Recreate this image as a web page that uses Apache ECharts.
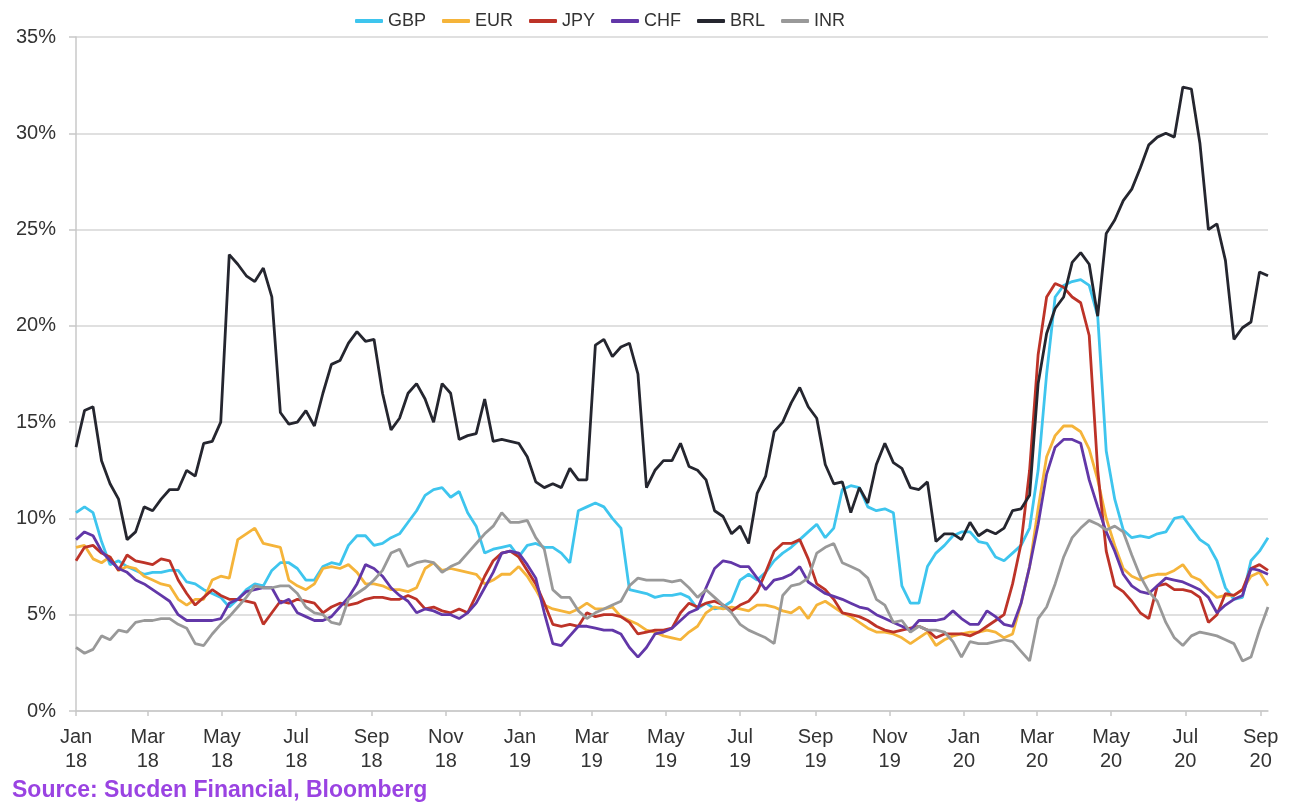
<!DOCTYPE html>
<html>
<head>
<meta charset="utf-8">
<title>FX volatility</title>
<script src="https://cdn.jsdelivr.net/npm/echarts@6/dist/echarts.min.js"></script>
<style>
    html, body { margin: 0; padding: 0; background: #fff; }
    #chart { width: 1298px; height: 805px; }
</style>
</head>
<body>
<div id="chart"></div>
<script>
// weekly observations, first one on 1 Jan 2018
const startDate = '2018-01-01';
const pointCount = 141;

// x-axis tick labels (every second month)
const tickDates = ['2018-01-01', '2018-03-01', '2018-05-01', '2018-07-01', '2018-09-01', '2018-11-01',
    '2019-01-01', '2019-03-01', '2019-05-01', '2019-07-01', '2019-09-01', '2019-11-01',
    '2020-01-01', '2020-03-01', '2020-05-01', '2020-07-01', '2020-09-01'];
const tickLabels = ['Jan\n18', 'Mar\n18', 'May\n18', 'Jul\n18', 'Sep\n18', 'Nov\n18',
    'Jan\n19', 'Mar\n19', 'May\n19', 'Jul\n19', 'Sep\n19', 'Nov\n19',
    'Jan\n20', 'Mar\n20', 'May\n20', 'Jul\n20', 'Sep\n20'];

const seriesNames = ['GBP', 'EUR', 'JPY', 'CHF', 'BRL', 'INR'];
const seriesColors = ['#3ec5ee', '#f5b43a', '#bd3328', '#6237a8', '#25262f', '#999999'];

const gbp = [
    10.3, 10.6, 10.3, 8.8, 7.6, 7.8, 7.5, 7.3, 7.1, 7.2,
    7.2, 7.3, 7.3, 6.7, 6.6, 6.3, 6.1, 5.9, 5.4, 5.8,
    6.3, 6.6, 6.5, 7.3, 7.7, 7.7, 7.4, 6.8, 6.8, 7.5,
    7.7, 7.6, 8.6, 9.1, 9.1, 8.6, 8.7, 9.0, 9.2, 9.8,
    10.4, 11.2, 11.5, 11.6, 11.1, 11.4, 10.3, 9.6, 8.2, 8.4,
    8.5, 8.6, 8.0, 8.6, 8.7, 8.5, 8.5, 8.2, 7.7, 10.4,
    10.6, 10.8, 10.6, 10.0, 9.5, 6.3, 6.2, 6.1, 5.9, 6.0,
    6.0, 6.1, 5.9, 5.3, 5.6, 5.3, 5.4, 5.7, 6.8, 7.1,
    6.8, 7.2, 7.8, 8.2, 8.5, 8.9, 9.3, 9.7, 9.0, 9.5,
    11.5, 11.7, 11.6, 10.6, 10.4, 10.5, 10.3, 6.5, 5.6, 5.6,
    7.5, 8.2, 8.6, 9.1, 9.3, 9.3, 8.8, 8.7, 8.0, 7.8,
    8.2, 8.6, 9.5, 12.5, 17.5, 21.5, 22.1, 22.3, 22.4, 22.1,
    20.5, 13.5, 11.0, 9.4, 9.0, 9.1, 9.0, 9.2, 9.3, 10.0,
    10.1, 9.5, 8.9, 8.6, 7.8, 6.4, 5.8, 5.9, 7.8, 8.3,
    9.0
];

const eur = [
    8.5, 8.6, 7.9, 7.7, 8.0, 7.3, 7.5, 7.4, 7.0, 6.8,
    6.6, 6.5, 5.8, 5.5, 5.8, 5.8, 6.8, 7.0, 6.9, 8.9,
    9.2, 9.5, 8.7, 8.6, 8.5, 6.8, 6.5, 6.3, 6.6, 7.4,
    7.5, 7.4, 7.6, 7.2, 6.6, 6.6, 6.5, 6.3, 6.3, 6.2,
    6.4, 7.4, 7.7, 7.3, 7.4, 7.3, 7.2, 7.1, 6.6, 6.8,
    7.1, 7.1, 7.5, 7.0, 6.3, 5.5, 5.3, 5.2, 5.1, 5.3,
    5.6, 5.3, 5.3, 5.4, 4.9, 4.7, 4.5, 4.2, 4.1, 3.9,
    3.8, 3.7, 4.1, 4.4, 5.1, 5.4, 5.3, 5.4, 5.3, 5.2,
    5.5, 5.5, 5.4, 5.2, 5.1, 5.4, 4.8, 5.5, 5.7, 5.4,
    5.1, 4.9, 4.6, 4.3, 4.1, 4.1, 4.0, 3.8, 3.5, 3.8,
    4.1, 3.4, 3.7, 3.9, 4.0, 4.1, 4.1, 4.2, 4.1, 3.8,
    4.0, 5.6, 7.5, 10.5, 13.2, 14.3, 14.8, 14.8, 14.5, 13.6,
    12.0, 10.0, 8.6, 7.4, 7.0, 6.8, 7.0, 7.1, 7.1, 7.3,
    7.6, 7.0, 6.8, 6.3, 5.9, 6.0, 6.0, 6.3, 7.0, 7.2,
    6.5
];

const jpy = [
    7.8, 8.5, 8.6, 8.2, 8.0, 7.3, 8.1, 7.8, 7.7, 7.6,
    7.9, 7.8, 6.8, 6.1, 5.5, 5.9, 6.3, 6.0, 5.8, 5.8,
    5.7, 5.6, 4.5, 5.1, 5.7, 5.6, 5.8, 5.7, 5.6, 5.1,
    5.4, 5.6, 5.5, 5.6, 5.8, 5.9, 5.9, 5.8, 5.8, 6.0,
    5.8, 5.3, 5.4, 5.2, 5.1, 5.3, 5.1, 6.0, 7.0, 7.8,
    8.2, 8.3, 8.0, 7.3, 6.6, 5.6, 4.5, 4.4, 4.5, 4.4,
    5.1, 4.9, 5.0, 5.0, 4.9, 4.6, 4.0, 4.1, 4.2, 4.2,
    4.3, 5.1, 5.6, 5.4, 5.6, 5.7, 5.5, 5.2, 5.5, 5.7,
    6.2, 7.2, 8.3, 8.7, 8.7, 8.9, 7.9, 6.6, 6.3, 5.8,
    5.1, 5.0, 4.9, 4.7, 4.4, 4.2, 4.1, 4.2, 4.3, 4.4,
    4.2, 3.8, 4.0, 4.0, 4.0, 3.9, 4.1, 4.4, 4.7, 5.0,
    6.6, 8.7, 12.5, 18.5, 21.5, 22.2, 22.0, 21.5, 21.2, 19.5,
    12.5, 8.3, 6.5, 6.2, 5.7, 5.1, 4.8, 6.5, 6.6, 6.3,
    6.3, 6.2, 5.9, 4.6, 5.0, 6.1, 6.0, 6.3, 7.4, 7.6,
    7.3
];

const chf = [
    8.9, 9.3, 9.1, 8.3, 7.8, 7.4, 7.2, 6.8, 6.6, 6.3,
    6.0, 5.7, 5.0, 4.7, 4.7, 4.7, 4.7, 4.8, 5.6, 5.8,
    6.2, 6.3, 6.4, 6.4, 5.6, 5.8, 5.1, 4.9, 4.7, 4.7,
    4.9, 5.4, 5.9, 6.6, 7.6, 7.4, 7.0, 6.4, 6.0, 5.7,
    5.1, 5.3, 5.2, 5.0, 5.0, 4.8, 5.1, 5.6, 6.4, 7.2,
    8.2, 8.3, 8.2, 7.6, 6.9, 5.1, 3.5, 3.4, 3.9, 4.4,
    4.4, 4.3, 4.2, 4.2, 4.0, 3.3, 2.8, 3.3, 4.0, 4.1,
    4.3, 4.7, 5.1, 5.3, 6.4, 7.4, 7.8, 7.7, 7.5, 7.5,
    6.9, 6.3, 6.8, 6.9, 7.1, 7.5, 6.7, 6.4, 6.1, 5.95,
    5.8, 5.6, 5.4, 5.3, 5.0, 4.8, 4.6, 4.4, 4.2, 4.7,
    4.7, 4.7, 4.8, 5.2, 4.8, 4.5, 4.5, 5.2, 4.9, 4.5,
    4.4, 5.6, 7.5, 9.7, 12.3, 13.7, 14.1, 14.1, 13.9, 12.0,
    10.6, 9.3, 8.3, 7.1, 6.5, 6.2, 6.1, 6.5, 6.9, 6.8,
    6.7, 6.5, 6.3, 5.9, 5.1, 5.5, 5.8, 6.0, 7.4, 7.3,
    7.1
];

const brl = [
    13.7, 15.6, 15.8, 13.0, 11.8, 11.0, 8.9, 9.3, 10.6, 10.4,
    11.0, 11.5, 11.5, 12.5, 12.2, 13.9, 14.0, 15.0, 23.7, 23.2,
    22.6, 22.3, 23.0, 21.5, 15.5, 14.9, 15.0, 15.6, 14.8, 16.5,
    18.0, 18.2, 19.1, 19.7, 19.2, 19.3, 16.5, 14.6, 15.2, 16.5,
    17.0, 16.2, 15.0, 17.0, 16.5, 14.1, 14.3, 14.4, 16.2, 14.0,
    14.1, 14.0, 13.9, 13.2, 11.9, 11.6, 11.8, 11.6, 12.6, 12.0,
    12.0, 19.0, 19.3, 18.4, 18.9, 19.1, 17.5, 11.6, 12.5, 13.0,
    13.0, 13.9, 12.7, 12.5, 12.0, 10.4, 10.1, 9.2, 9.6, 8.7,
    11.3, 12.2, 14.5, 15.0, 16.0, 16.8, 15.8, 15.2, 12.8, 11.8,
    11.9, 10.3, 11.6, 10.8, 12.8, 13.9, 12.9, 12.6, 11.6, 11.5,
    11.9, 8.8, 9.2, 9.2, 8.9, 9.8, 9.1, 9.4, 9.2, 9.5,
    10.4, 10.5, 11.2, 17.0, 19.6, 20.9, 21.5, 23.3, 23.8, 23.2,
    20.5, 24.8, 25.5, 26.5, 27.1, 28.2, 29.4, 29.8, 30.0, 29.8,
    32.4, 32.3, 29.5, 25.0, 25.3, 23.4, 19.3, 19.9, 20.2, 22.8,
    22.6
];

const inr = [
    3.3, 3.0, 3.2, 3.9, 3.7, 4.2, 4.1, 4.6, 4.7, 4.7,
    4.8, 4.8, 4.5, 4.3, 3.5, 3.4, 4.0, 4.5, 4.9, 5.4,
    5.9, 6.5, 6.4, 6.4, 6.5, 6.5, 6.1, 5.4, 5.1, 5.0,
    4.6, 4.5, 5.8, 6.1, 6.4, 6.8, 7.3, 8.2, 8.4, 7.5,
    7.7, 7.8, 7.7, 7.2, 7.5, 7.7, 8.2, 8.7, 9.2, 9.6,
    10.3, 9.8, 9.8, 9.9, 9.0, 8.4, 6.3, 5.9, 5.9, 5.2,
    4.8, 5.1, 5.3, 5.5, 5.7, 6.5, 6.9, 6.8, 6.8, 6.8,
    6.7, 6.8, 6.4, 5.9, 6.3, 5.9, 5.5, 5.1, 4.5, 4.2,
    4.0, 3.8, 3.5, 6.0, 6.5, 6.6, 6.9, 8.2, 8.5, 8.7,
    7.7, 7.5, 7.3, 6.9, 5.8, 5.5, 4.6, 4.7, 4.1, 4.4,
    4.2, 4.2, 4.1, 3.6, 2.8, 3.6, 3.5, 3.5, 3.6, 3.7,
    3.6, 3.1, 2.6, 4.8, 5.4, 6.6, 8.0, 9.0, 9.5, 9.9,
    9.7, 9.4, 9.6, 9.3, 8.1, 7.0, 6.2, 5.7, 4.6, 3.8,
    3.4, 3.9, 4.1, 4.0, 3.9, 3.7, 3.5, 2.6, 2.8, 4.2,
    5.4
];

const seriesValues = [gbp, eur, jpy, chf, brl, inr];

// x 轴用"距起始日的天数"表示，刻度放在每两个月的月初
const DAY = 24 * 3600 * 1000;
const toDay = (s) => {
    const [y, m, d] = s.split('-').map(Number);
    const [y0, m0, d0] = startDate.split('-').map(Number);
    return Math.round((Date.UTC(y, m - 1, d) - Date.UTC(y0, m0 - 1, d0)) / DAY);
};

const weekDays = [];
for (let i = 0; i < pointCount; i++) {
    weekDays.push(i * 7);
}
const tickValues = tickDates.map(toDay);

const font = '"Liberation Sans", Arial, sans-serif';

const chart = echarts.init(document.getElementById('chart'));

chart.setOption({
    animation: false,
    backgroundColor: '#fff',
    textStyle: { fontFamily: font },
    legend: {
        left: 350,
        top: 7,
        itemWidth: 28,
        itemHeight: 4,
        itemGap: 16,
        icon: 'roundRect',
        textStyle: { fontSize: 18, color: '#333', fontFamily: font },
        data: seriesNames
    },
    grid: {
        left: 76,
        right: 30,
        top: 37,
        bottom: 94
    },
    xAxis: {
        type: 'value',
        min: 0,
        max: weekDays[weekDays.length - 1],
        axisLine: { lineStyle: { color: '#c8c8c8', width: 1.5 } },
        axisTick: {
            show: true,
            customValues: tickValues,
            length: 5,
            lineStyle: { color: '#c8c8c8', width: 1.5 }
        },
        axisLabel: {
            customValues: tickValues,
            color: '#333',
            fontSize: 20,
            lineHeight: 24,
            margin: 14,
            fontFamily: font,
            formatter: (v) => {
                const idx = tickValues.indexOf(Math.round(v));
                return idx >= 0 ? tickLabels[idx] : '';
            }
        },
        splitLine: { show: false }
    },
    yAxis: {
        type: 'value',
        min: 0,
        max: 35,
        interval: 5,
        axisLine: { show: true, lineStyle: { color: '#c8c8c8', width: 1.5 } },
        axisTick: { show: true, length: 7, lineStyle: { color: '#c8c8c8', width: 1.5 } },
        axisLabel: {
            formatter: '{value}%',
            color: '#333',
            fontSize: 20,
            margin: 20,
            fontFamily: font
        },
        splitLine: { lineStyle: { color: '#d6d6d6', width: 1.5 } }
    },
    graphic: [{
        type: 'text',
        left: 12,
        top: 779,
        style: {
            text: 'Source: Sucden Financial, Bloomberg',
            fill: '#9a43e2',
            font: 'bold 23px ' + font
        }
    }],
    series: seriesNames.map((name, k) => ({
        name: name,
        type: 'line',
        showSymbol: false,
        symbol: 'none',
        color: seriesColors[k],
        lineStyle: { width: 2.8, color: seriesColors[k] },
        data: seriesValues[k].map((v, i) => [weekDays[i], v])
    }))
});

window.addEventListener('resize', () => chart.resize());
</script>
</body>
</html>
